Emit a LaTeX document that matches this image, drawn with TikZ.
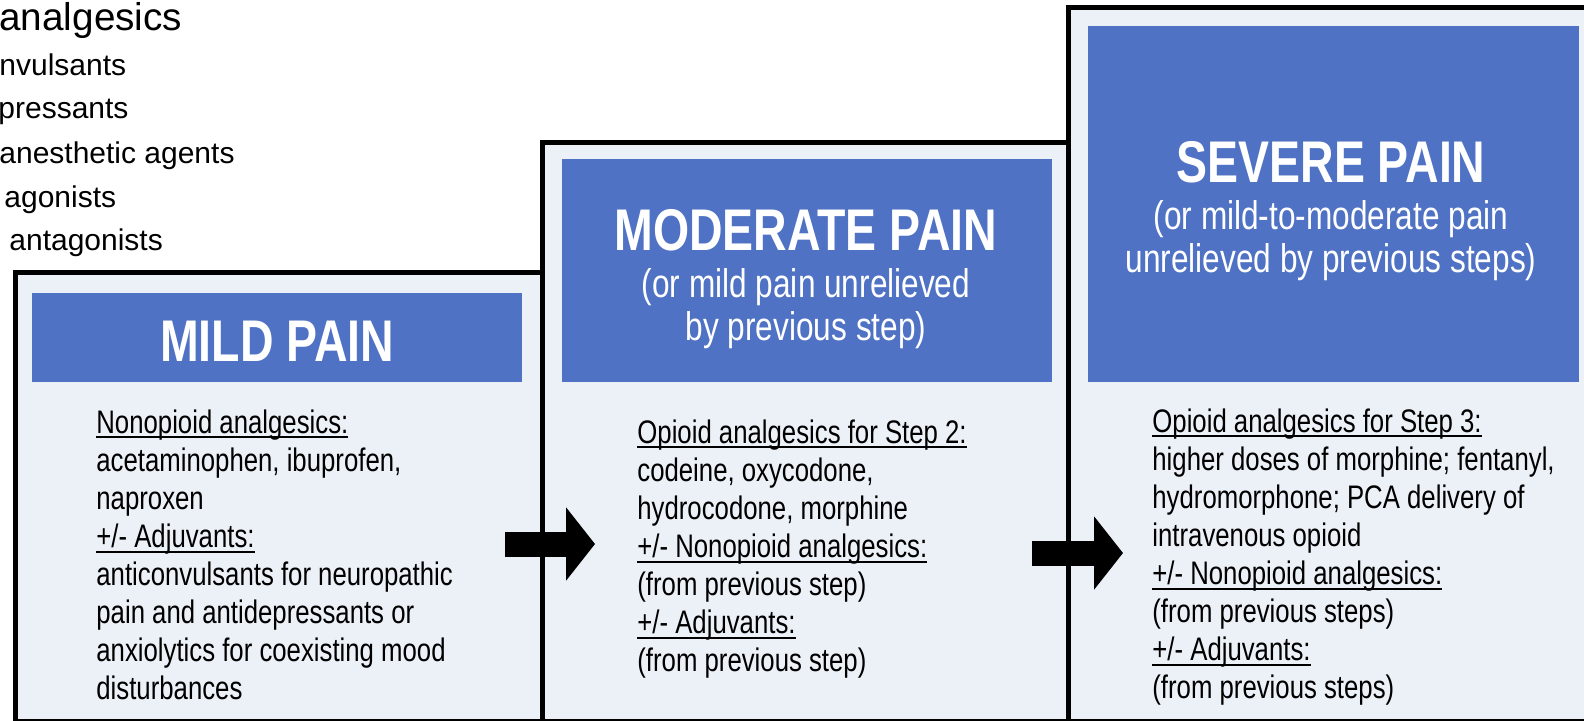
\documentclass[tikz,border=0pt]{standalone}
\usepackage{fontspec}
\setmainfont{Liberation Sans}
\newfontfamily\boxfont[FakeStretch=0.79]{Liberation Sans}
\usetikzlibrary{arrows.meta,fit}
\definecolor{stepfill}{RGB}{236,240,247}
\definecolor{headblue}{RGB}{79,114,196}
% underline just below the baseline
\newlength\ulwd
\newcommand\ulined[1]{\settowidth\ulwd{#1}\rlap{\rule[-0.16em]{\ulwd}{0.9pt}}#1}

\begin{document}
\begin{tikzpicture}[x=0.5pt,y=-0.5pt,
  stepbox/.style={draw=black, line width=2.5pt, fill=stepfill, inner sep=0pt},
  headbox/.style={fill=headblue, inner sep=0pt},
  steptitle/.style={text=white, font=\boxfont\bfseries\fontsize{29.4}{30}\selectfont, inner sep=0pt},
  stepsub/.style={text=white, font=\boxfont\fontsize{20}{21.5}\selectfont, align=center, inner sep=0pt},
  stepbody/.style={font=\boxfont\fontsize{16.3}{19.05}\selectfont, align=left, anchor=north west, inner sep=0pt},
  listtext/.style={font=\fontsize{15}{15}\selectfont, anchor=base west, inner sep=0pt},
  bigarrow/.style={line width=12.5pt, -{Triangle[length=14.5pt,width=36pt]}}
]
\useasboundingbox (0,0) rectangle (1584,720);
\clip (0,0) rectangle (1584,720);
\fill[white] (0,0) rectangle (1584,720);

% list of drug classes, running off the left edge
\node[font=\fontsize{19.35}{20}\selectfont, anchor=base west, inner sep=0pt] (lst0) at (-1,30) {analgesics};
\node[listtext] (lst1) at (-1,75) {nvulsants};
\node[listtext] (lst2) at (-2,118) {pressants};
\node[listtext] (lst3) at (-1,163) {anesthetic agents};
\node[listtext] (lst4) at (4,207) {agonists};
\node[listtext] (lst5) at (9,250) {antagonists};

% step 1
\node[stepbox, fit={(15,272) (542,721)}] (mild) {};
\node[headbox, fit={(32,293) (522,382)}] (mildhead) {};
\node[steptitle] (mildtitle) at (277,341) {MILD PAIN};
\node[stepbody] (mildbody) at (96,409) {\ulined{Nonopioid analgesics:}\\
acetaminophen, ibuprofen,\\
naproxen\\
\ulined{+/- Adjuvants:}\\
anticonvulsants for neuropathic\\
pain and antidepressants or\\
anxiolytics for coexisting mood\\
disturbances};

% step 2
\node[stepbox, fit={(542,142) (1068,721)}] (moderate) {};
\node[headbox, fit={(562,159) (1052,382)}] (moderatehead) {};
\node[steptitle] (moderatetitle) at (806,230) {MODERATE PAIN};
\node[stepsub] (moderatesub) at (806,309) {(or mild pain unrelieved\\ by previous step)};
\node[stepbody] (moderatebody) at (637,419) {\ulined{Opioid analgesics for Step 2:}\\
codeine, oxycodone,\\
hydrocodone, morphine\\
\ulined{+/- Nonopioid analgesics:}\\
(from previous step)\\
\ulined{+/- Adjuvants:}\\
(from previous step)};

% step 3
\node[stepbox, fit={(1068,7) (1598,721)}] (severe) {};
\node[headbox, fit={(1088,26) (1579,382)}] (severehead) {};
\node[steptitle] (severetitle) at (1331,162) {SEVERE PAIN};
\node[stepsub] (severesub) at (1331,241) {(or mild-to-moderate pain\\ unrelieved by previous steps)};
\node[stepbody] (severebody) at (1152,408) {\ulined{Opioid analgesics for Step 3:}\\
higher doses of morphine; fentanyl,\\
hydromorphone; PCA delivery of\\
intravenous opioid\\
\ulined{+/- Nonopioid analgesics:}\\
(from previous steps)\\
\ulined{+/- Adjuvants:}\\
(from previous steps)};

% escalation arrows between steps
\coordinate (a1s) at (505,544);
\coordinate (a1e) at (595,544);
\coordinate (a2s) at (1032,553);
\coordinate (a2e) at (1123,553);
\draw[bigarrow] (a1s) -- (a1e);
\draw[bigarrow] (a2s) -- (a2e);
\end{tikzpicture}
\end{document}
